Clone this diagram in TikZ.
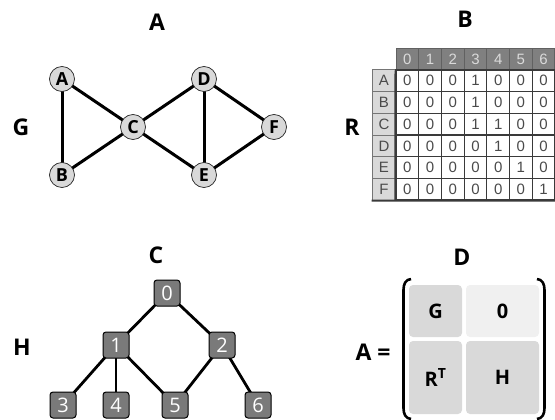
\documentclass[tikz,border=0pt]{standalone}
\usepackage{fontspec}
\setmainfont{Open Sans}
\newfontfamily\arialfont{Liberation Sans}
\usetikzlibrary{backgrounds}
\definecolor{nodegray}{HTML}{D9D9D9}
\definecolor{treegray}{HTML}{7A7A7A}
\definecolor{headgray}{HTML}{808080}
\definecolor{headtext}{HTML}{DADADA}
\definecolor{celltext}{HTML}{4A4A4A}
\definecolor{gridline}{HTML}{3A3A3A}
\definecolor{zerogray}{HTML}{F0F0F0}
\tikzset{
  title/.style={font=\fontsize{23}{23}\selectfont\bfseries, inner sep=0pt},
  gnode/.style={circle, draw=black!85, line width=0.7pt, fill=nodegray, minimum size=25pt, inner sep=0pt, font=\fontsize{18}{18}\selectfont\bfseries},
  gedge/.style={line width=3pt},
  tnode/.style={rectangle, rounded corners=3pt, draw=black, line width=1pt, fill=treegray, text=white, minimum size=26pt, inner sep=0pt, font=\fontsize{20}{20}\selectfont},
  tedge/.style={line width=2.8pt},
  hcell/.style={rectangle, draw=gridline!80, line width=1pt, fill=headgray, text=headtext, minimum width=22.71pt, minimum height=21pt, inner sep=0pt, font=\arialfont\fontsize{15}{15}\selectfont},
  lcell/.style={rectangle, draw=gridline!70, line width=1pt, fill=nodegray, text=celltext, minimum width=24pt, minimum height=21.67pt, inner sep=0pt, font=\arialfont\fontsize{15}{15}\selectfont},
  dcell/.style={rectangle, draw=gridline, line width=1.2pt, fill=white, text=celltext, minimum width=22.71pt, minimum height=21.67pt, inner sep=0pt, font=\arialfont\fontsize{15}{15}\selectfont},
  mcell/.style={rectangle, rounded corners=4pt, inner sep=0pt, font=\fontsize{20}{20}\selectfont\bfseries},
  bracket/.style={line width=2.6pt},
}
\begin{document}
\begin{tikzpicture}[x=1pt,y=-1pt]
\useasboundingbox (0,0) rectangle (555,420);

% ---- titles and side labels
\node[title] (tA) at (157,22) {A};
\node[title] (tB) at (465,19) {B};
\node[title] (tC) at (156,255) {C};
\node[title] (tD) at (462,257) {D};
\node[title] (lG) at (21,127) {G};
\node[title] (lR) at (352,127) {R};
\node[title] (lH) at (22,347) {H};
\node[title] (lA) at (373,352) {A =};

% ---- graph G
\node[gnode] (A) at (62,79) {A};
\node[gnode] (B) at (62,175) {B};
\node[gnode] (C) at (133,127) {C};
\node[gnode] (D) at (204,79) {D};
\node[gnode] (E) at (204,175) {E};
\node[gnode] (F) at (274,127) {F};
\begin{scope}[on background layer]
\foreach \u/\v in {A/B,A/C,B/C,C/D,C/E,D/E,D/F,E/F}
  \draw[gedge] (\u.center) -- (\v.center);
\end{scope}

% ---- matrix R
\foreach \c in {0,...,6}
  \node[hcell] (h\c) at ({396+22.71*(\c+0.5)},59.5) {\c};
\foreach \r/\lab in {0/A,1/B,2/C,3/D,4/E,5/F}
  \node[lcell] (l\lab) at (384,{70+21.67*(\r+0.5)}) {\lab};
\foreach \r/\vals in {0/{0,0,0,1,0,0,0},1/{0,0,0,1,0,0,0},2/{0,0,0,1,1,0,0},3/{0,0,0,0,1,0,0},4/{0,0,0,0,0,1,0},5/{0,0,0,0,0,0,1}}
  \foreach \v [count=\c from 0] in \vals
    \node[dcell] (d\r-\c) at ({396+22.71*(\c+0.5)},{70+21.67*(\r+0.5)}) {\v};
\draw[line width=2pt, gridline] (lF.south west) -- (d5-6.south east);
\draw[line width=2pt, gridline] (h0.south west) -- (d5-0.south west);

% ---- tree H
\node[tnode] (t0) at (167,293) {0};
\node[tnode] (t1) at (116,345) {1};
\node[tnode] (t2) at (222,345) {2};
\node[tnode] (t3) at (63,405) {3};
\node[tnode] (t4) at (116,405) {4};
\node[tnode] (t5) at (175,405) {5};
\node[tnode] (t6) at (258,405) {6};
\begin{scope}[on background layer]
\foreach \u/\v in {t0/t1,t0/t2,t1/t3,t1/t4,t1/t5,t2/t5,t2/t6}
  \draw[tedge] (\u.center) -- (\v.center);
\end{scope}

% ---- block matrix A
\node[mcell, fill=nodegray, minimum width=53pt, minimum height=52pt] (mG) at (435.5,311) {G};
\node[mcell, fill=zerogray, minimum width=73pt, minimum height=52pt] (m0) at (502.5,311) {0};
\node[mcell, fill=nodegray, minimum width=53pt, minimum height=73pt] (mR) at (435.5,377.5) {R\textsuperscript{T}};
\node[mcell, fill=nodegray, minimum width=73pt, minimum height=73pt] (mH) at (502.5,377.5) {H};
\draw[bracket] (411,279) .. controls (405.5,279.5) and (403.5,284) .. (403.5,290) -- (403.5,408) .. controls (403.5,414) and (405.5,418.5) .. (411,419);
\draw[bracket] (537,279) .. controls (542.5,279.5) and (544.5,284) .. (544.5,290) -- (544.5,408) .. controls (544.5,414) and (542.5,418.5) .. (537,419);
\end{tikzpicture}
\end{document}
